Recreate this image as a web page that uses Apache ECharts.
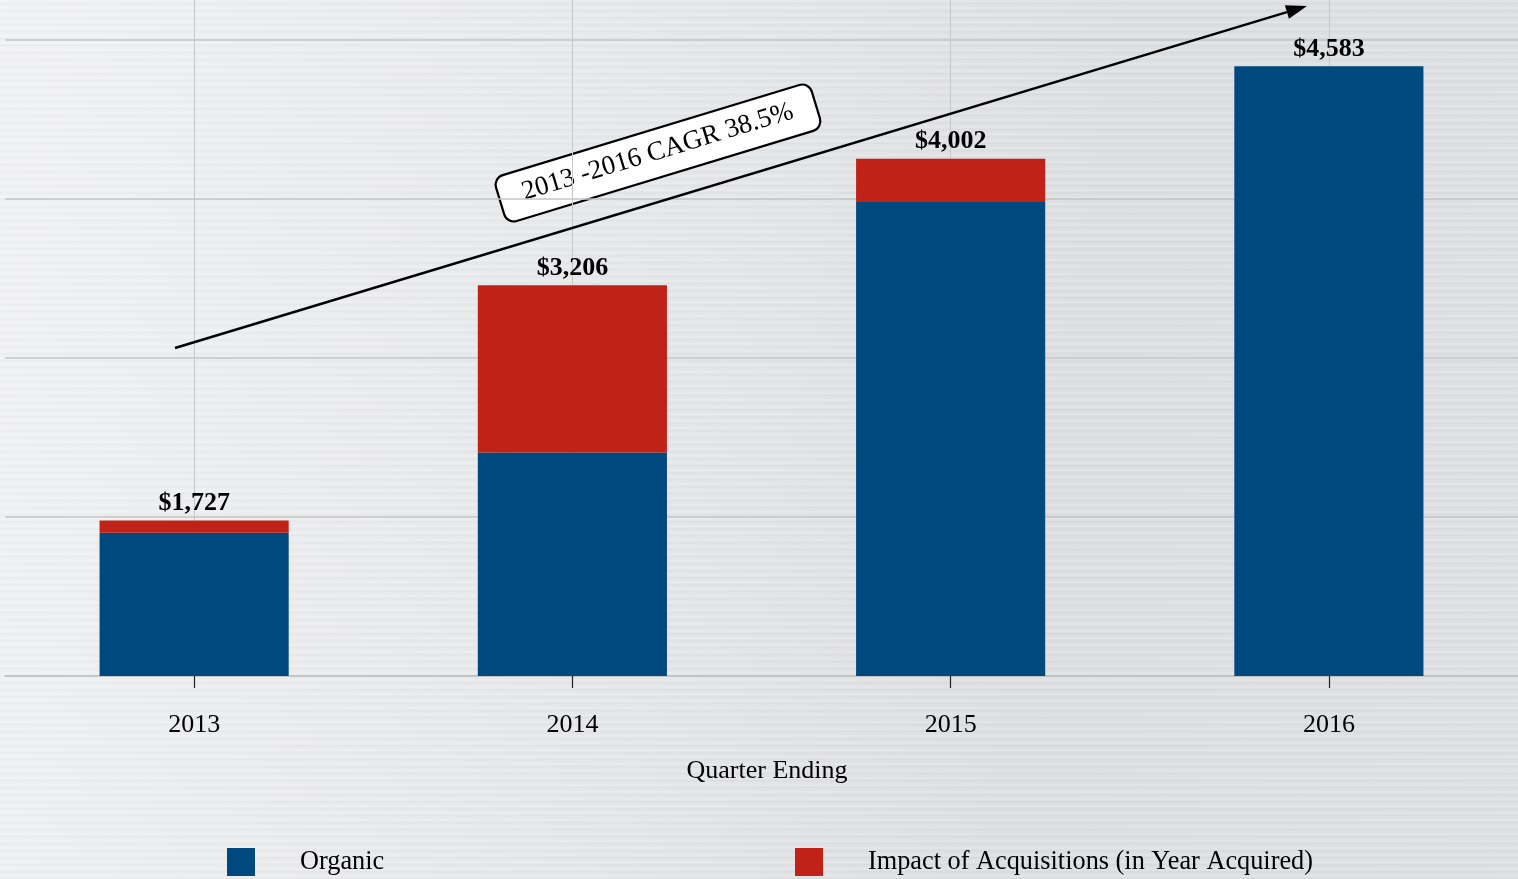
<!DOCTYPE html>
<html>
<head>
<meta charset="utf-8">
<script src="https://cdn.jsdelivr.net/npm/echarts@6/dist/echarts.min.js"></script>
<style>
html,body{margin:0;padding:0;width:1518px;height:879px;overflow:hidden;}
body{
  background:
    repeating-linear-gradient(180deg, rgba(255,255,255,0.18) 0px, rgba(255,255,255,0.18) 2px, rgba(0,0,0,0.015) 3px, rgba(0,0,0,0.015) 4px, rgba(255,255,255,0.06) 5px, rgba(255,255,255,0.06) 7px),
    linear-gradient(100deg, #f0f1f2 0%, #e7e8ea 35%, #dbdde0 68%, #dcdee0 100%);
}
#chart{width:1518px;height:879px;}
</style>
</head>
<body>
<div id="chart"></div>
<script>
const categories = ['2013', '2014', '2015', '2016'];
const organic = [1651, 2155, 3730, 4583];
const acquisitions = [76, 1051, 272, 0];
const seriesNames = ['Organic', 'Impact of Acquisitions (in Year Acquired)'];
const axisTitle = 'Quarter Ending';
const cagrText = '2013 -2016 CAGR 38.5%';

const FONT = '"Liberation Serif", "Times New Roman", serif';
const BLUE = '#00497e';
const RED = '#c02217';

function fmt(v) {
  return '$' + v.toLocaleString('en-US');
}

const chart = echarts.init(document.getElementById('chart'), null, {renderer: 'canvas'});

// arrow geometry (annotation)
const ax0 = 175, ay0 = 348, tipX = 1307, tipY = 6;
const dx = tipX - ax0, dy = tipY - ay0, len = Math.sqrt(dx*dx + dy*dy);
const ux = dx/len, uy = dy/len, nx = -uy, ny = ux;
const headL = 21, headW = 7;
const bx = tipX - headL*ux, by = tipY - headL*uy;

chart.setOption({
  backgroundColor: 'transparent',
  animation: false,
  grid: {left: 5, right: 0, top: 0, bottom: 203, outerBoundsMode: 'none'},
  legend: [
    {
      data: [seriesNames[0]], left: 227, top: 848, padding: 0, icon: 'rect', itemWidth: 28, itemHeight: 28,
      textStyle: {fontFamily: FONT, fontSize: 26.3, color: '#000', padding: [0, 0, 0, 40]}
    },
    {
      data: [seriesNames[1]], left: 795, top: 848, padding: 0, icon: 'rect', itemWidth: 28, itemHeight: 28,
      textStyle: {fontFamily: FONT, fontSize: 26.3, color: '#000', padding: [0, 0, 0, 40]}
    }
  ],
  xAxis: {
    type: 'category',
    data: categories,
    axisLine: {show: true, lineStyle: {color: '#b8babc', width: 1.5}},
    axisTick: {show: true, alignWithLabel: true, length: 12, lineStyle: {color: '#222', width: 1.2}},
    axisLabel: {fontFamily: FONT, fontSize: 26, color: '#000', margin: 36},
    splitLine: {show: false},
    name: axisTitle,
    nameLocation: 'middle',
    nameGap: 82,
    nameTextStyle: {fontFamily: FONT, fontSize: 26, color: '#000', padding: [0, 0, 0, 11]}
  },
  yAxis: {
    type: 'value',
    min: 750,
    max: 5000,
    interval: 1000,
    axisLabel: {show: false},
    axisLine: {show: false},
    axisTick: {show: false},
    splitLine: {show: true, showMinLine: false, showMaxLine: false, lineStyle: {color: '#c2c4c6', width: 1.5}}
  },
  series: [
    {
      name: seriesNames[0],
      type: 'bar',
      stack: 'total',
      barWidth: '50%',
      data: organic,
      itemStyle: {color: BLUE},
      markLine: {
        silent: true,
        z: 1,
        symbol: ['none', 'none'],
        label: {show: false},
        lineStyle: {color: '#c6c7c9', width: 1, type: 'solid'},
        data: categories.map(c => ({xAxis: c}))
      }
    },
    {
      name: seriesNames[1],
      type: 'bar',
      stack: 'total',
      barWidth: '50%',
      data: acquisitions,
      itemStyle: {color: RED},
      label: {
        show: true,
        position: 'top',
        distance: 4,
        fontFamily: FONT,
        fontSize: 26,
        fontWeight: 'bold',
        color: '#000',
        formatter: p => fmt(organic[p.dataIndex] + acquisitions[p.dataIndex])
      }
    }
  ],
  graphic: [
    {
      type: 'line',
      z: 100,
      shape: {x1: ax0, y1: ay0, x2: bx, y2: by},
      style: {stroke: '#000', lineWidth: 2.5}
    },
    {
      type: 'polygon',
      z: 100,
      shape: {points: [[tipX, tipY], [bx + headW*nx, by + headW*ny], [bx - headW*nx, by - headW*ny]]},
      style: {fill: '#000'}
    },
    {
      type: 'group',
      x: 658, y: 153,
      rotation: 0.295,
      z: 101,
      children: [
        {
          type: 'rect',
          shape: {x: -165, y: -24, width: 330, height: 48, r: 10},
          style: {fill: '#fff', stroke: '#000', lineWidth: 2.2}
        },
        {
          type: 'text',
          x: 0, y: -1,
          style: {text: cagrText, font: '27px ' + FONT, fill: '#000', align: 'center', verticalAlign: 'middle'}
        }
      ]
    }
  ]
});
</script>
</body>
</html>
